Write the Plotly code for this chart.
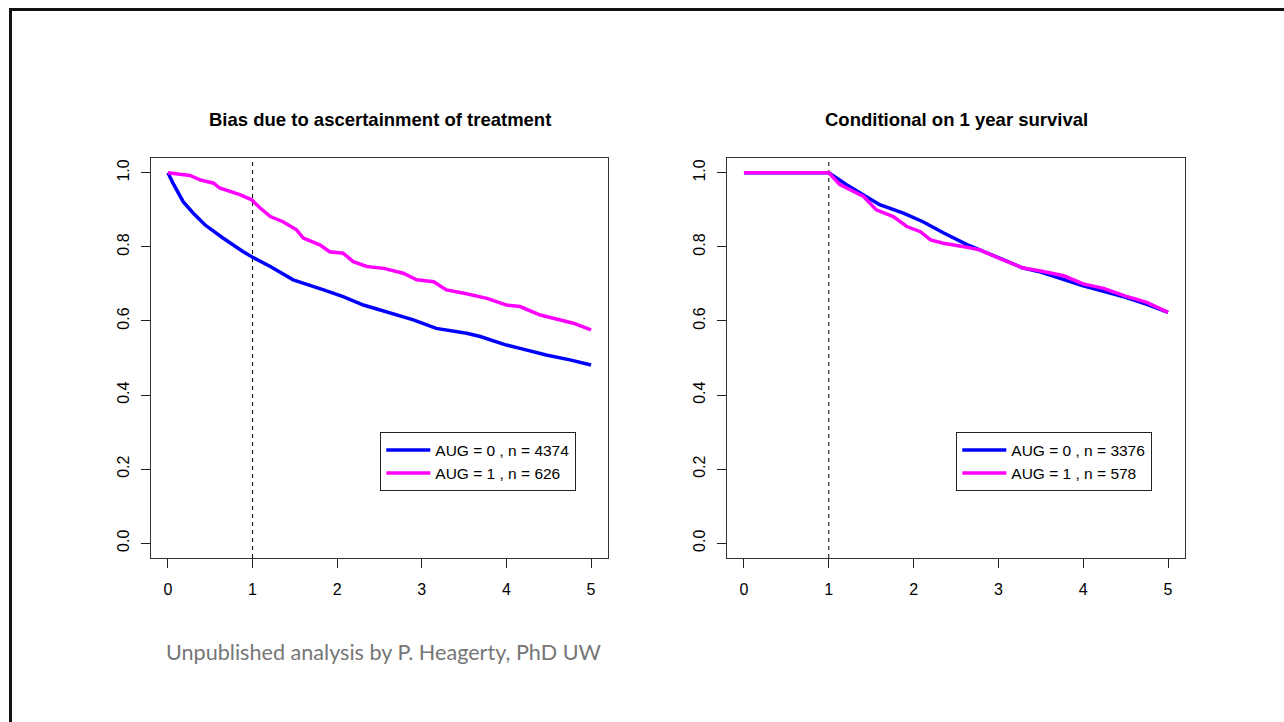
import plotly.graph_objects as go

# ---------------- data ----------------
left_aug0_t = [0, 0.06, 0.18, 0.30, 0.44, 0.65, 0.89, 1.0, 1.21, 1.48, 1.84, 2.07, 2.31, 2.51,
               2.9, 3.17, 3.53, 3.69, 4.0, 4.16, 4.47, 4.75, 5.0]
left_aug0_s = [1.0, 0.972, 0.922, 0.891, 0.859, 0.824, 0.787, 0.772, 0.747, 0.711, 0.684, 0.666,
               0.643, 0.630, 0.603, 0.580, 0.567, 0.558, 0.535, 0.526, 0.508, 0.495, 0.481]

left_aug1_t = [0, 0.26, 0.38, 0.54, 0.61, 0.85, 0.99, 1.09, 1.21, 1.36, 1.52, 1.60, 1.80, 1.91,
               2.07, 2.19, 2.35, 2.55, 2.78, 2.94, 3.14, 3.29, 3.50, 3.77, 4.0, 4.16, 4.40,
               4.60, 4.79, 5.0]
left_aug1_s = [1.0, 0.993, 0.981, 0.972, 0.959, 0.941, 0.927, 0.905, 0.882, 0.868, 0.846, 0.824,
               0.805, 0.787, 0.783, 0.760, 0.747, 0.742, 0.729, 0.711, 0.706, 0.684, 0.675,
               0.661, 0.643, 0.639, 0.616, 0.605, 0.594, 0.576]

right_aug0_t = [0, 1.0, 1.21, 1.41, 1.60, 1.88, 2.11, 2.35, 2.63, 2.78, 3.0, 3.29, 3.5, 3.77,
                4.0, 4.24, 4.5, 4.75, 5.0]
right_aug0_s = [1.0, 1.0, 0.968, 0.941, 0.914, 0.891, 0.868, 0.838, 0.806, 0.792, 0.770, 0.743,
                0.732, 0.711, 0.695, 0.680, 0.664, 0.645, 0.623]

right_aug1_t = [0, 1.0, 1.13, 1.29, 1.41, 1.56, 1.76, 1.92, 2.08, 2.20, 2.35, 2.63, 2.78, 3.0,
                3.29, 3.5, 3.77, 4.0, 4.24, 4.5, 4.75, 5.0]
right_aug1_s = [1.0, 1.0, 0.968, 0.950, 0.936, 0.900, 0.882, 0.855, 0.841, 0.819, 0.810, 0.799,
                0.792, 0.770, 0.743, 0.735, 0.722, 0.700, 0.688, 0.667, 0.650, 0.623]

left_labels = ["AUG = 0 , n = 4374", "AUG = 1 , n = 626"]
right_labels = ["AUG = 0 , n = 3376", "AUG = 1 , n = 578"]
titles = ["Bias due to ascertainment of treatment", "Conditional on 1 year survival"]
landmark_time = 1
x_ticks = [0, 1, 2, 3, 4, 5]
y_ticks = [0.0, 0.2, 0.4, 0.6, 0.8, 1.0]
footnote = "Unpublished analysis by P. Heagerty, PhD UW"

BLUE = "#0000FF"
MAGENTA = "#FF00FF"
W, H = 1284, 722
FONT = "Liberation Sans, Arial, sans-serif"

fig = go.Figure()

fig.add_trace(go.Scatter(x=left_aug0_t, y=left_aug0_s, mode="lines", name=left_labels[0],
                         line=dict(color=BLUE, width=3.5), xaxis="x", yaxis="y", legend="legend"))
fig.add_trace(go.Scatter(x=left_aug1_t, y=left_aug1_s, mode="lines", name=left_labels[1],
                         line=dict(color=MAGENTA, width=3.5), xaxis="x", yaxis="y", legend="legend"))
fig.add_trace(go.Scatter(x=right_aug0_t, y=right_aug0_s, mode="lines", name=right_labels[0],
                         line=dict(color=BLUE, width=3.5), xaxis="x2", yaxis="y2", legend="legend2"))
fig.add_trace(go.Scatter(x=right_aug1_t, y=right_aug1_s, mode="lines", name=right_labels[1],
                         line=dict(color=MAGENTA, width=3.5), xaxis="x2", yaxis="y2", legend="legend2"))

# plot box geometry (pixels)
Y_DOM = [(H - 558) / H, (H - 158) / H]
X1_DOM = [151 / W, 608 / W]
X2_DOM = [727 / W, 1185 / W]

axis_common = dict(showgrid=False, zeroline=False, showline=True, mirror=True,
                   linecolor="#333333", linewidth=1.3, ticks="outside", ticklen=9,
                   tickwidth=1, tickcolor="#222222",
                   tickfont=dict(family=FONT, size=16, color="black"))

xaxis_common = dict(axis_common, range=[-0.2, 5.2], tickvals=x_ticks, ticklabelstandoff=8)
yaxis_common = dict(axis_common, range=[-0.04, 1.04], tickvals=y_ticks, tickformat=".1f",
                    tickangle=-90, ticklabelstandoff=5)

legend_common = dict(y=(H - 432) / H, xanchor="left", yanchor="top", itemwidth=44,
                     bgcolor="white", bordercolor="#222222", borderwidth=1.3,
                     font=dict(family=FONT, size=15.5, color="black"), tracegroupgap=0)

fig.update_layout(
    width=W, height=H,
    margin=dict(l=0, r=0, t=0, b=0),
    paper_bgcolor="white", plot_bgcolor="white",
    xaxis=dict(xaxis_common, domain=X1_DOM, anchor="y"),
    yaxis=dict(yaxis_common, domain=Y_DOM, anchor="x"),
    xaxis2=dict(xaxis_common, domain=X2_DOM, anchor="y2"),
    yaxis2=dict(yaxis_common, domain=Y_DOM, anchor="x2"),
    legend=dict(legend_common, x=380 / W),
    legend2=dict(legend_common, x=956 / W),
    showlegend=True,
)

# dashed landmark lines at t = 1
for xr, yr in (("x", "y domain"), ("x2", "y2 domain")):
    fig.add_shape(type="line", xref=xr, yref=yr, x0=landmark_time, x1=landmark_time, y0=0, y1=1,
                  line=dict(color="black", width=1, dash="4px,4px"), layer="below")

# titles
for dom, ttl in ((X1_DOM, titles[0]), (X2_DOM, titles[1])):
    fig.add_annotation(text=f"<b>{ttl}</b>", xref="paper", yref="paper",
                       x=(dom[0] + dom[1]) / 2, y=(H - 120) / H, xanchor="center", yanchor="middle",
                       showarrow=False, font=dict(family=FONT, size=18.5, color="black"))

# footnote
fig.add_annotation(text=footnote, xref="paper", yref="paper", x=164 / W, y=(H - 652) / H,
                   xanchor="left", yanchor="middle", showarrow=False,
                   font=dict(family="Lato, sans-serif", size=21.6, color="#767676"))

# slide frame (left and top edges)
fig.add_shape(type="line", xref="paper", yref="paper", x0=10.5 / W, x1=10.5 / W, y0=0, y1=(H - 9.5) / H,
              line=dict(color="#111111", width=3))
fig.add_shape(type="line", xref="paper", yref="paper", x0=9 / W, x1=1, y0=(H - 9.5) / H, y1=(H - 9.5) / H,
              line=dict(color="#111111", width=3))

fig.write_html("out.html", config={"displayModeBar": False},
               post_script="document.body.style.margin='0';")
